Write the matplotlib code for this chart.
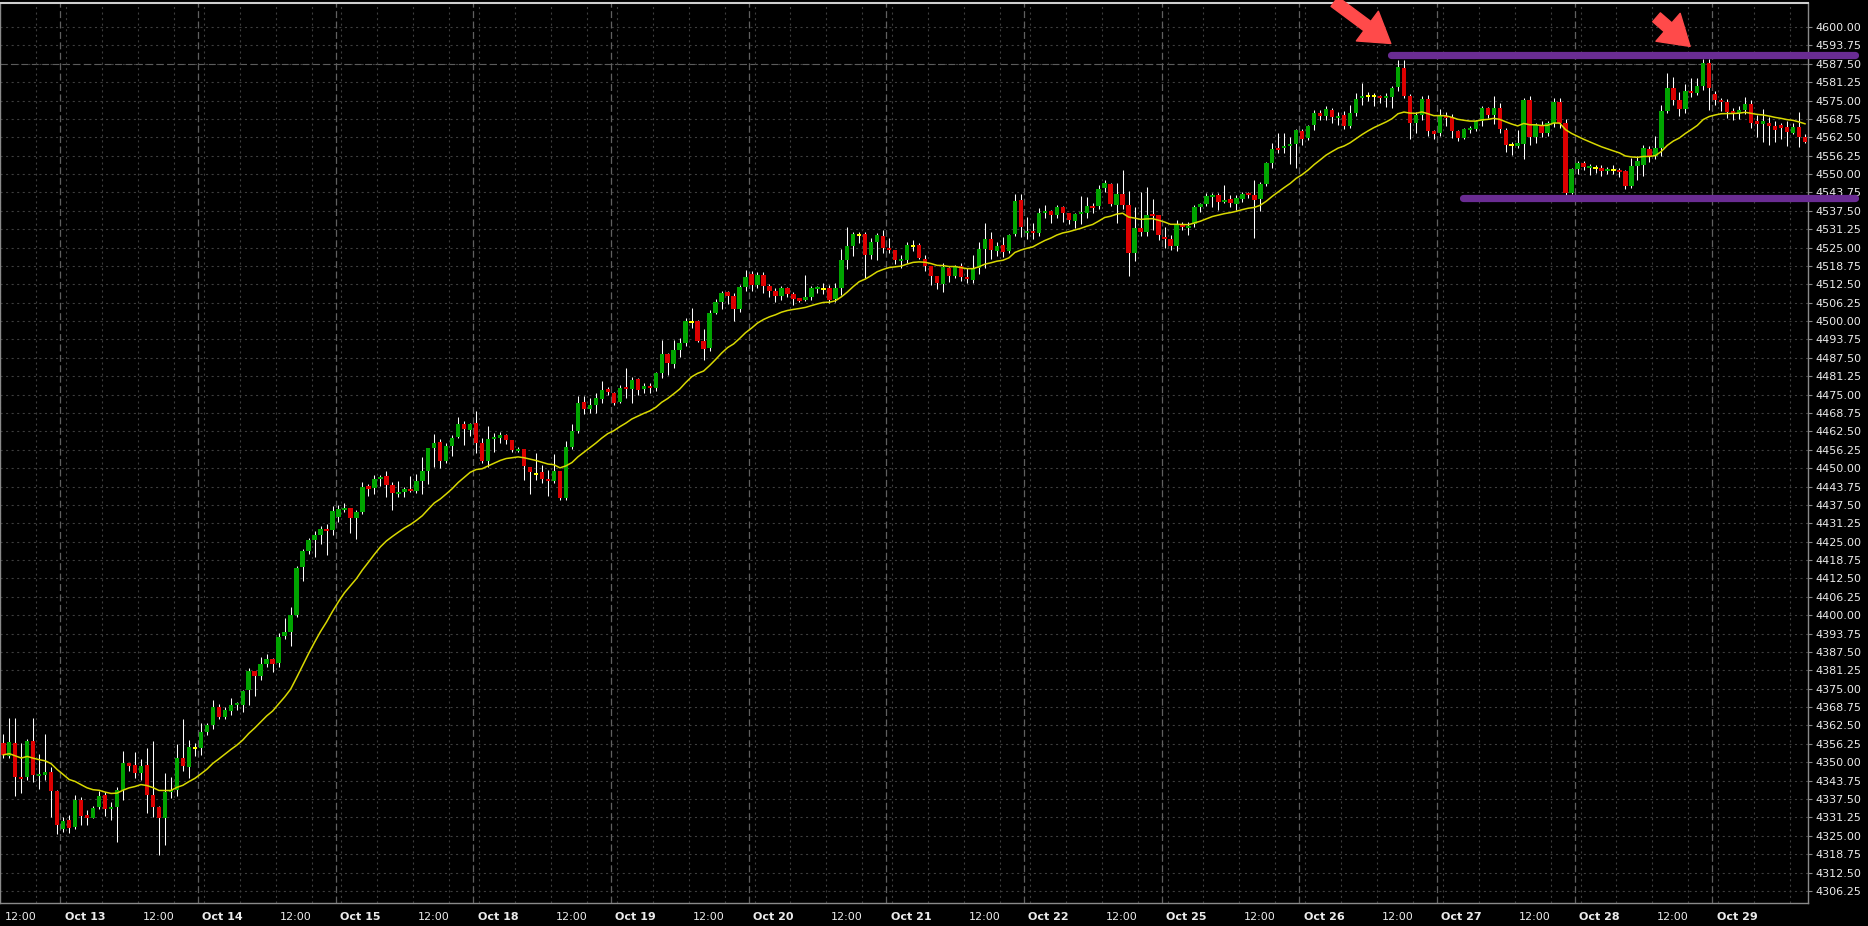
"""
Hourly index futures candles (Oct 12 - Oct 29) with a 20-bar moving average,
a range drawn by two purple lines and two arrows at the double top.
"""

import matplotlib
matplotlib.use("Agg")
import matplotlib.pyplot as plt
import matplotlib.transforms as mtransforms
import numpy as np
import pandas as pd

plt.rcParams["font.family"] = ["DejaVu Sans"]
plt.rcParams["lines.scale_dashes"] = False

# one entry per hourly bar, 23 bars per session
opens = [
    4356.7, 4352.1, 4356.7, 4344.9, 4345.1, 4357.2, 4345.6, 4345.7, 4346.6, 4340.2,
    4327.3, 4330.3, 4328.1, 4337.2, 4332.1, 4331.2, 4334.8, 4338.9, 4334.2, 4334.9,
    4340.6, 4349.7, 4349.1, 4346.2, 4349.1, 4338.9, 4334.9, 4331.2, 4340.0, 4340.6,
    4351.6, 4348.3, 4355.0, 4355.0, 4360.4, 4362.5, 4368.7, 4365.5, 4367.5, 4369.5,
    4369.5, 4374.6, 4381.0, 4379.3, 4383.4, 4385.1, 4383.6, 4392.9, 4394.4, 4400.1,
    4416.5, 4421.8, 4425.6, 4427.3, 4429.3, 4429.0, 4433.5, 4435.8, 4436.4, 4433.2,
    4435.1, 4443.9, 4443.4, 4446.4, 4447.3, 4444.3, 4441.3, 4442.0, 4442.9, 4442.3,
    4445.6, 4449.0, 4456.7, 4458.8, 4452.4, 4457.5, 4460.5, 4465.0, 4463.0, 4465.3,
    4458.5, 4452.4, 4459.8, 4460.4, 4461.3, 4459.6, 4456.0, 4456.5, 4450.5, 4448.0,
    4448.7, 4446.3, 4445.6, 4449.0, 4440.0, 4457.2, 4462.6, 4472.6, 4470.1, 4471.5,
    4473.4, 4476.9, 4475.4, 4472.6, 4477.4, 4476.9, 4480.3, 4476.8, 4478.0, 4477.4,
    4482.2, 4488.8, 4485.4, 4490.2, 4492.4, 4499.8, 4500.0, 4493.4, 4491.0, 4502.6,
    4506.5, 4510.0, 4508.7, 4504.1, 4511.6, 4516.0, 4512.3, 4515.7, 4512.0, 4510.2,
    4508.7, 4511.4, 4509.3, 4507.5, 4507.2, 4508.3, 4510.8, 4511.0, 4511.4, 4507.5,
    4511.4, 4520.8, 4525.5, 4529.3, 4529.6, 4522.5, 4527.0, 4528.9, 4524.9, 4524.2,
    4520.6, 4520.8, 4525.5, 4525.9, 4521.1, 4518.9, 4515.3, 4512.6, 4518.2, 4515.3,
    4518.7, 4515.1, 4514.0, 4518.2, 4524.5, 4527.9, 4524.0, 4525.9, 4523.8, 4529.6,
    4541.2, 4530.0, 4530.4, 4530.1, 4536.9, 4537.4, 4536.1, 4538.9, 4536.9, 4534.1,
    4536.4, 4536.6, 4539.1, 4539.2, 4545.4, 4546.6, 4539.5, 4543.2, 4539.5, 4523.0,
    4531.8, 4530.4, 4536.4, 4536.1, 4528.6, 4527.9, 4525.5, 4532.9, 4531.8, 4532.9,
    4538.9, 4539.8, 4542.3, 4542.9, 4540.6, 4541.5, 4539.8, 4541.5, 4543.4, 4542.9,
    4541.5, 4546.6, 4553.6, 4558.9, 4558.9, 4559.5, 4560.2, 4564.6, 4562.4, 4566.7,
    4570.7, 4569.9, 4571.8, 4569.2, 4570.1, 4566.4, 4570.9, 4575.8, 4576.6, 4576.6,
    4576.7, 4576.1, 4576.3, 4579.5, 4586.0, 4576.6, 4567.3, 4570.1, 4575.5, 4564.7,
    4563.9, 4569.9, 4569.5, 4564.7, 4562.2, 4565.0, 4565.2, 4567.9, 4572.4, 4570.1,
    4572.4, 4565.0, 4559.8, 4559.8, 4560.3, 4575.2, 4562.5, 4566.7, 4564.1, 4567.3,
    4574.6, 4567.3, 4543.7, 4551.7, 4553.7, 4552.0, 4552.0, 4552.0, 4551.2, 4551.4,
    4551.4, 4551.0, 4546.0, 4552.9, 4553.0, 4558.6, 4556.0, 4558.8, 4571.5, 4579.2,
    4575.2, 4572.0, 4578.4, 4577.7, 4580.0, 4587.7, 4577.2, 4575.2, 4574.4, 4571.5,
    4570.7, 4571.8, 4573.8, 4567.9, 4567.0, 4567.5, 4566.2, 4566.7, 4565.9, 4564.1,
    4565.9, 4562.7,
]
highs = [
    4359.6, 4365.2, 4365.2, 4356.7, 4358.0, 4365.2, 4352.8, 4359.6, 4348.5, 4340.6,
    4331.5, 4332.1, 4338.9, 4338.3, 4333.8, 4335.0, 4340.2, 4340.0, 4336.4, 4341.5,
    4353.8, 4349.9, 4353.6, 4351.1, 4354.7, 4357.2, 4335.0, 4346.2, 4345.1, 4356.2,
    4364.7, 4357.6, 4356.4, 4363.2, 4363.2, 4371.2, 4369.8, 4368.9, 4371.7, 4370.4,
    4374.6, 4381.9, 4381.0, 4385.9, 4386.8, 4385.3, 4394.0, 4398.9, 4402.9, 4416.7,
    4422.4, 4426.4, 4428.6, 4430.3, 4431.0, 4437.1, 4437.5, 4438.3, 4436.5, 4435.8,
    4445.4, 4444.5, 4447.7, 4447.7, 4449.1, 4445.4, 4445.6, 4443.7, 4447.3, 4448.0,
    4453.9, 4457.0, 4461.6, 4459.9, 4458.4, 4461.3, 4467.3, 4466.1, 4465.5, 4469.4,
    4460.1, 4464.3, 4462.1, 4462.4, 4461.6, 4459.6, 4457.3, 4456.5, 4450.5, 4455.0,
    4451.1, 4449.4, 4454.7, 4449.0, 4459.3, 4465.0, 4474.5, 4474.5, 4473.7, 4475.4,
    4479.8, 4477.7, 4476.0, 4478.3, 4484.2, 4481.1, 4480.5, 4478.8, 4478.8, 4482.8,
    4493.6, 4489.0, 4493.6, 4494.1, 4501.2, 4504.3, 4500.4, 4497.2, 4503.8, 4507.4,
    4510.4, 4510.2, 4509.4, 4512.3, 4517.4, 4517.2, 4516.7, 4516.8, 4512.6, 4511.1,
    4511.9, 4511.7, 4510.0, 4507.8, 4515.7, 4511.9, 4511.9, 4512.8, 4512.3, 4512.8,
    4524.5, 4531.9, 4530.4, 4530.4, 4530.4, 4528.1, 4529.9, 4531.0, 4528.1, 4524.2,
    4522.5, 4526.8, 4527.6, 4526.4, 4522.5, 4518.9, 4515.3, 4519.6, 4518.5, 4519.1,
    4519.6, 4517.9, 4522.5, 4527.0, 4533.5, 4530.4, 4527.0, 4528.7, 4529.5, 4543.1,
    4543.1, 4535.5, 4533.5, 4538.3, 4539.5, 4537.8, 4539.5, 4539.1, 4536.9, 4536.6,
    4542.5, 4542.3, 4540.0, 4546.3, 4548.0, 4547.1, 4546.8, 4551.4, 4544.2, 4538.9,
    4544.0, 4545.7, 4541.4, 4536.1, 4532.1, 4529.3, 4534.4, 4533.8, 4533.8, 4539.5,
    4540.3, 4543.7, 4543.7, 4543.4, 4546.3, 4542.9, 4542.9, 4544.0, 4544.0, 4548.0,
    4547.4, 4554.2, 4560.7, 4564.1, 4564.1, 4562.7, 4565.2, 4565.2, 4566.7, 4571.8,
    4571.8, 4573.0, 4572.4, 4571.0, 4571.4, 4573.5, 4577.5, 4580.9, 4578.0, 4577.5,
    4577.0, 4577.5, 4580.0, 4588.9, 4588.9, 4577.2, 4571.0, 4576.5, 4577.0, 4564.9,
    4572.0, 4571.2, 4570.4, 4565.0, 4565.8, 4566.4, 4568.5, 4573.0, 4572.9, 4576.5,
    4574.0, 4565.6, 4561.0, 4565.0, 4575.8, 4576.7, 4567.5, 4568.0, 4568.0, 4575.8,
    4576.0, 4568.8, 4552.0, 4554.5, 4554.3, 4553.5, 4553.0, 4553.2, 4552.5, 4553.0,
    4552.2, 4551.5, 4555.5, 4556.0, 4560.0, 4559.5, 4563.0, 4573.5, 4584.2, 4583.0,
    4578.0, 4580.5, 4582.5, 4582.8, 4589.2, 4589.0, 4578.3, 4576.0, 4575.5, 4572.5,
    4573.0, 4576.3, 4575.2, 4570.0, 4572.0, 4569.5, 4568.0, 4567.5, 4568.0, 4567.5,
    4571.2, 4563.5,
]
lows = [
    4351.3, 4351.3, 4338.6, 4339.4, 4344.0, 4343.4, 4340.9, 4344.0, 4331.5, 4325.6,
    4326.2, 4325.8, 4327.3, 4328.7, 4328.5, 4331.0, 4334.0, 4331.8, 4330.4, 4323.0,
    4337.2, 4347.0, 4344.6, 4344.0, 4332.9, 4331.3, 4318.5, 4321.9, 4338.0, 4338.6,
    4347.0, 4344.5, 4352.1, 4352.5, 4359.1, 4361.3, 4364.7, 4364.7, 4366.0, 4367.8,
    4367.2, 4369.5, 4372.5, 4378.0, 4382.5, 4380.8, 4382.5, 4392.0, 4389.5, 4399.5,
    4411.7, 4420.8, 4419.7, 4424.2, 4420.5, 4427.3, 4431.8, 4435.0, 4428.1, 4426.0,
    4434.4, 4440.5, 4441.2, 4443.9, 4440.3, 4435.8, 4440.1, 4440.3, 4442.0, 4441.4,
    4441.2, 4444.6, 4450.5, 4450.2, 4451.9, 4454.1, 4460.1, 4457.9, 4460.9, 4455.0,
    4451.6, 4450.5, 4455.6, 4458.4, 4458.1, 4455.6, 4455.5, 4446.0, 4441.2, 4446.0,
    4444.8, 4440.5, 4444.8, 4439.2, 4439.0, 4456.4, 4462.1, 4468.4, 4468.6, 4468.6,
    4472.0, 4474.9, 4471.5, 4472.0, 4473.7, 4472.0, 4474.9, 4475.4, 4475.7, 4476.4,
    4480.5, 4481.7, 4484.2, 4487.7, 4491.5, 4497.5, 4493.0, 4486.8, 4490.0, 4502.4,
    4504.2, 4505.8, 4500.0, 4503.2, 4510.4, 4510.4, 4511.1, 4509.7, 4508.1, 4506.6,
    4507.2, 4508.3, 4505.5, 4506.5, 4507.0, 4507.2, 4509.4, 4509.2, 4506.0, 4506.5,
    4508.9, 4517.7, 4522.1, 4526.4, 4514.5, 4521.0, 4520.8, 4523.0, 4523.0, 4519.5,
    4518.0, 4519.6, 4524.0, 4521.0, 4517.0, 4512.3, 4510.8, 4510.0, 4513.4, 4514.5,
    4513.6, 4513.1, 4513.0, 4516.0, 4518.0, 4521.0, 4522.0, 4521.9, 4523.0, 4529.0,
    4528.5, 4528.0, 4527.8, 4529.0, 4535.0, 4533.5, 4535.0, 4533.8, 4533.0, 4531.6,
    4533.0, 4535.0, 4536.6, 4538.0, 4544.0, 4539.0, 4533.5, 4538.0, 4515.5, 4520.5,
    4529.0, 4529.0, 4531.0, 4527.6, 4524.7, 4524.2, 4524.0, 4531.0, 4529.3, 4532.0,
    4537.2, 4539.0, 4538.9, 4537.8, 4540.0, 4538.9, 4537.8, 4540.5, 4542.0, 4528.4,
    4537.5, 4546.0, 4551.9, 4557.0, 4557.3, 4553.3, 4552.2, 4560.0, 4561.6, 4565.0,
    4568.5, 4568.5, 4567.5, 4566.7, 4565.2, 4565.8, 4569.8, 4573.5, 4575.0, 4573.0,
    4574.0, 4572.8, 4572.4, 4578.4, 4576.0, 4561.9, 4563.9, 4568.5, 4563.0, 4562.0,
    4562.8, 4566.5, 4562.2, 4561.4, 4561.9, 4563.9, 4564.5, 4566.5, 4569.0, 4566.9,
    4564.0, 4557.5, 4556.5, 4558.8, 4555.0, 4559.8, 4560.5, 4562.5, 4563.0, 4566.0,
    4565.5, 4543.0, 4543.2, 4550.0, 4551.5, 4549.6, 4550.5, 4549.5, 4550.0, 4550.0,
    4549.0, 4545.0, 4545.3, 4548.0, 4549.5, 4554.0, 4555.0, 4556.0, 4570.7, 4573.5,
    4569.8, 4570.8, 4576.3, 4577.0, 4578.5, 4571.8, 4573.5, 4571.5, 4569.0, 4568.4,
    4568.8, 4570.5, 4565.5, 4562.5, 4561.0, 4560.0, 4561.0, 4562.0, 4559.5, 4563.5,
    4559.2, 4560.5,
]
closes = [
    4352.5, 4357.0, 4345.1, 4344.3, 4357.2, 4345.7, 4346.0, 4346.8, 4340.2, 4328.7,
    4330.0, 4327.8, 4337.2, 4331.8, 4331.2, 4334.6, 4338.6, 4334.1, 4334.9, 4340.6,
    4349.9, 4348.7, 4346.2, 4348.7, 4338.9, 4334.9, 4331.2, 4340.0, 4340.6, 4351.6,
    4348.7, 4355.3, 4355.0, 4360.4, 4362.5, 4368.7, 4365.5, 4367.8, 4369.5, 4369.8,
    4374.2, 4381.0, 4379.3, 4383.4, 4385.1, 4383.4, 4392.7, 4394.4, 4400.1, 4416.2,
    4421.8, 4425.6, 4427.3, 4429.2, 4428.6, 4435.4, 4436.0, 4436.4, 4433.2, 4435.1,
    4443.5, 4442.9, 4446.3, 4447.1, 4444.3, 4441.4, 4442.0, 4442.8, 4442.2, 4445.6,
    4449.0, 4457.0, 4458.4, 4452.4, 4457.5, 4460.2, 4465.0, 4463.3, 4465.0, 4458.5,
    4452.4, 4459.9, 4460.4, 4461.3, 4459.6, 4456.2, 4456.5, 4450.8, 4448.8, 4448.0,
    4446.3, 4445.6, 4449.0, 4440.0, 4457.2, 4462.6, 4472.3, 4470.1, 4471.5, 4473.7,
    4476.6, 4476.0, 4472.0, 4477.1, 4476.8, 4480.0, 4476.6, 4477.9, 4477.4, 4482.2,
    4488.8, 4485.9, 4490.2, 4492.4, 4500.0, 4499.8, 4493.4, 4490.5, 4502.6, 4506.5,
    4509.7, 4508.7, 4504.1, 4511.6, 4514.9, 4512.3, 4515.7, 4512.0, 4510.2, 4508.7,
    4511.4, 4509.1, 4507.5, 4507.2, 4508.2, 4511.1, 4511.4, 4511.0, 4507.2, 4511.4,
    4520.8, 4525.5, 4529.6, 4529.3, 4522.5, 4526.8, 4529.3, 4525.0, 4524.2, 4520.8,
    4521.1, 4525.9, 4525.5, 4521.6, 4518.9, 4515.3, 4513.1, 4518.3, 4515.3, 4518.7,
    4514.9, 4514.2, 4517.9, 4524.5, 4527.9, 4524.2, 4525.6, 4523.6, 4529.3, 4540.8,
    4531.9, 4530.4, 4529.9, 4536.9, 4537.4, 4536.1, 4538.9, 4536.9, 4534.4, 4536.4,
    4536.9, 4539.1, 4538.6, 4544.9, 4546.8, 4539.8, 4543.2, 4539.5, 4523.0, 4531.8,
    4530.4, 4536.1, 4535.7, 4529.3, 4527.9, 4525.5, 4532.9, 4532.1, 4532.3, 4538.9,
    4539.8, 4542.5, 4542.9, 4540.6, 4541.2, 4540.3, 4541.7, 4543.2, 4542.9, 4541.2,
    4546.6, 4553.6, 4558.4, 4558.2, 4559.5, 4560.1, 4565.0, 4561.9, 4566.3, 4570.6,
    4569.9, 4572.0, 4569.3, 4569.8, 4566.4, 4570.9, 4575.5, 4576.6, 4576.6, 4576.6,
    4575.7, 4576.6, 4579.4, 4586.5, 4576.6, 4567.3, 4570.1, 4575.5, 4564.7, 4563.6,
    4570.1, 4569.0, 4564.5, 4562.2, 4565.2, 4565.4, 4567.9, 4572.4, 4570.1, 4572.4,
    4565.2, 4559.9, 4559.8, 4560.3, 4575.2, 4562.5, 4566.7, 4564.1, 4567.3, 4574.6,
    4567.3, 4543.7, 4551.7, 4553.7, 4552.4, 4552.6, 4552.0, 4551.2, 4551.7, 4551.4,
    4550.9, 4546.0, 4552.9, 4554.3, 4558.8, 4556.0, 4558.8, 4571.5, 4579.2, 4575.2,
    4572.0, 4578.4, 4577.7, 4580.0, 4587.7, 4579.2, 4575.2, 4574.4, 4571.2, 4570.7,
    4571.8, 4573.8, 4567.3, 4567.0, 4568.1, 4566.2, 4565.0, 4565.8, 4564.4, 4565.9,
    4562.7, 4561.0,
]

day_labels = ["Oct 13", "Oct 14", "Oct 15", "Oct 18", "Oct 19", "Oct 20", "Oct 21",
              "Oct 22", "Oct 25", "Oct 26", "Oct 27", "Oct 28", "Oct 29"]
bars_per_day = 23
first_session_bar = 10          # first bar of the Oct 13 session
grid_hours = [1, 7, 13, 19]     # minor grid, bars after session start
noon_offset = 13                # 12:00 label position

price_ticks = np.arange(4306.25, 4600.01, 6.25)
marker_level = 4587.50

range_top = 4590.5
range_bottom = 4541.7
range_top_start = 231.8
range_bottom_start = 243.9
range_end = 309.3

arrow_tails = [(222.4, 4608.6), (276.2, 4603.3)]
arrow_tips = [(231.8, 4594.4), (281.8, 4593.4)]

GREEN = "#00a400"
RED = "#dc0000"
DOJI = "#ffff00"
MA_COLOR = "#d8d800"
GRID = "#3e3e3e"
DAYLINE = "#606060"
TEXT = "#ececec"


def main():
    o = np.array(opens)
    h = np.array(highs)
    l = np.array(lows)
    c = np.array(closes)
    x = np.arange(len(c))
    ma = pd.Series(c).ewm(span=20, adjust=False).mean()

    fig = plt.figure(figsize=(18.68, 9.26), dpi=100, facecolor="black")
    ax = fig.add_axes([0, 23 / 926, 1808 / 1868, 900 / 926], facecolor="black")
    ax.set_xlim(-0.55, 301.5)
    ax.set_ylim(4302.14, 4608.16)

    # grid
    for p in price_ticks:
        ax.axhline(p, color=GRID, lw=0.8, ls=(0, (1.5, 2.5)), zorder=0)
    ax.axhline(marker_level, color="#5c5c5c", lw=0.8, ls=(0, (5, 2.5)), zorder=0)

    trans = mtransforms.blended_transform_factory(ax.transData, ax.transAxes)
    for k in range(-1, len(day_labels)):
        start = first_session_bar - 0.5 + k * bars_per_day
        if k >= 0:
            ax.axvline(start, color=DAYLINE, lw=0.9, ls=(0, (5, 2.5)), zorder=0)
            ax.text(start + 0.75, -0.0156, day_labels[k], transform=trans,
                    ha="left", va="center", fontsize=8, fontweight="bold",
                    color=TEXT, clip_on=False)
        for g in grid_hours:
            ax.axvline(start + g, color=GRID, lw=0.8, ls=(0, (1.5, 2.5)), zorder=0)
        noon = start + noon_offset
        if -0.6 < noon < 295:
            ax.text(noon + 0.75, -0.0156, "12:00", transform=trans,
                    ha="left", va="center", fontsize=8, color=TEXT, clip_on=False)

    # candles
    ax.vlines(x, l, h, color="white", lw=0.75, zorder=2)
    body = np.abs(c - o)
    min_h = 0.7
    bottom = np.where(body < min_h, (o + c) / 2 - min_h / 2, np.minimum(o, c))
    height = np.maximum(body, min_h)
    colors = np.where(c > o, GREEN, np.where(c < o, RED, DOJI))
    ax.bar(x, height, bottom=bottom, width=0.74, color=colors, linewidth=0, zorder=3)

    ax.plot(x, ma, color=MA_COLOR, lw=1.1, zorder=4)

    # range lines and arrows
    ax.plot([range_top_start, range_end], [range_top, range_top], color="#6a2c93",
            lw=5.2, solid_capstyle="round", clip_on=False, zorder=5)
    ax.plot([range_bottom_start, range_end], [range_bottom, range_bottom], color="#6a2c93",
            lw=5.2, solid_capstyle="round", clip_on=False, zorder=5)
    for tail, tip in zip(arrow_tails, arrow_tips):
        ax.annotate("", xy=tip, xytext=tail, annotation_clip=False, zorder=6,
                    arrowprops=dict(arrowstyle="simple,head_length=1.5,head_width=1.9,tail_width=0.6",
                                    mutation_scale=14, color="#ff4a4a", shrinkA=0, shrinkB=0))

    # axes
    ax.set_xticks([])
    ax.yaxis.tick_right()
    ax.set_yticks(price_ticks)
    ax.set_yticklabels([f"{p:.2f}" for p in price_ticks])
    ax.tick_params(axis="y", colors="#8a8a8a", labelcolor=TEXT, labelsize=8,
                   length=3, width=0.8, pad=2)
    for side in ["right", "bottom", "left"]:
        ax.spines[side].set_color("#8a8a8a")
        ax.spines[side].set_linewidth(1.0)
    ax.spines["top"].set_color("#cfcfcf")
    ax.spines["top"].set_linewidth(1.5)

    fig.savefig("out.png", dpi=100, facecolor="black")
    plt.close(fig)


if __name__ == "__main__":
    main()
